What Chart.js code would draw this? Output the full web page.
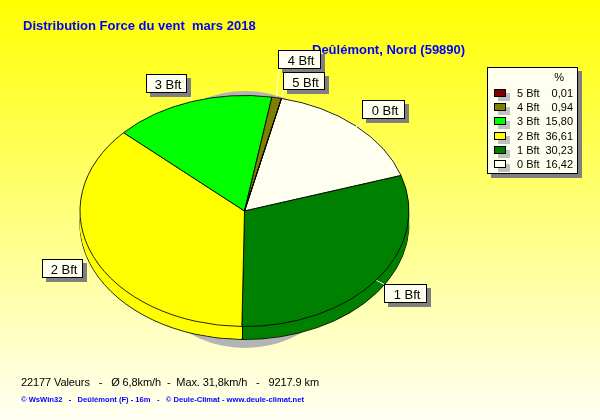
<!DOCTYPE html>
<html>
<head>
<meta charset="utf-8">
<style>
  html, body { margin: 0; padding: 0; background: #fff; }
  #wrap { width: 600px; height: 420px; }
</style>
<script src="https://cdn.jsdelivr.net/npm/chart.js@4"></script>
</head>
<body>
<div id="wrap"><canvas id="windChart" width="600" height="420"></canvas></div>
<script>
// Wind force distribution, March 2018
const categories = ['0 Bft', '1 Bft', '2 Bft', '3 Bft', '4 Bft', '5 Bft'];
const percentages = [16.42, 30.23, 36.61, 15.80, 0.94, 0.01];
const percentLabels = ['16,42', '30,23', '36,61', '15,80', '0,94', '0,01'];
const sliceColors = ['#fffff0', '#008000', '#ffff00', '#00ff00', '#808000', '#800000'];

const titleText = 'Distribution Force du vent  mars 2018';
const stationText = 'Deûlémont, Nord (59890)';
const statsText = '22177 Valeurs   -   Ø 6,8km/h  -  Max. 31,8km/h   -   9217.9 km';
const creditText = '© WsWin32   -   Deûlémont (F) - 16m   -   © Deule-Climat - www.deule-climat.net';

// Tilted pie: the circle from Chart.js is squashed to an ellipse
const PIE_X = 244.5, PIE_Y = 211, RADIUS = 164.5, SQUASH = 115.5 / 164.5, DEPTH = 13;

function withPieTransform(chart, ctx, dx, dy, fn) {
    const arc = chart.getDatasetMeta(0).data[0];
    ctx.save();
    ctx.translate(PIE_X + dx, PIE_Y + dy);
    ctx.scale(1, SQUASH);
    ctx.translate(-arc.x, -arc.y);
    fn();
    ctx.restore();
}

function drawBox(ctx, x, y, w, h, shadow) {
    ctx.fillStyle = '#808080';
    ctx.fillRect(x + shadow, y + shadow, w, h);
    ctx.fillStyle = '#fffff0';
    ctx.fillRect(x, y, w, h);
    ctx.strokeStyle = '#000';
    ctx.lineWidth = 1;
    ctx.strokeRect(x + 0.5, y + 0.5, w - 1, h - 1);
}

const backgroundPlugin = {
    id: 'background',
    beforeDraw(chart) {
        const { ctx, width, height } = chart;
        const grad = ctx.createLinearGradient(0, 0, 0, height);
        grad.addColorStop(0, '#ffff00');
        grad.addColorStop(1, '#fffff4');
        ctx.fillStyle = grad;
        ctx.fillRect(0, 0, width, height);
    }
};

const tiltedPiePlugin = {
    id: 'tiltedPie',
    beforeDatasetsDraw(chart) {
        const { ctx } = chart;
        const arcs = chart.getDatasetMeta(0).data;
        // grey shadow, only shows above and below the pie
        ctx.fillStyle = '#b4b4b4';
        ctx.beginPath();
        ctx.ellipse(245, 219.5, 120, 128.5, 0, 0, Math.PI * 2);
        ctx.fill();
        // side wall
        withPieTransform(chart, ctx, 0, DEPTH, () => arcs.forEach(a => a.draw(ctx)));
        for (let dy = DEPTH - 1; dy > 0; dy--) {
            withPieTransform(chart, ctx, 0, dy, () => {
                arcs.forEach((a, i) => {
                    ctx.fillStyle = sliceColors[i];
                    ctx.beginPath();
                    ctx.moveTo(a.x, a.y);
                    ctx.arc(a.x, a.y, RADIUS, a.startAngle, a.endAngle);
                    ctx.closePath();
                    ctx.fill();
                });
            });
        }
        // wall edges between slices, front side only
        ctx.strokeStyle = '#000';
        ctx.lineWidth = 1;
        arcs.forEach(a => {
            if (Math.sin(a.startAngle) <= 0) return;
            const ex = Math.round(PIE_X + RADIUS * Math.cos(a.startAngle)) + 0.5;
            const ey = PIE_Y + RADIUS * SQUASH * Math.sin(a.startAngle);
            ctx.beginPath();
            ctx.moveTo(ex, ey);
            ctx.lineTo(ex, ey + DEPTH);
            ctx.stroke();
        });
        ctx.save();
        ctx.translate(PIE_X, PIE_Y);
        ctx.scale(1, SQUASH);
        ctx.translate(-arcs[0].x, -arcs[0].y);
    },
    afterDatasetsDraw(chart) {
        chart.ctx.restore();
    }
};

// label boxes around the pie: [x, y, w, h]
const labelBoxes = [
    [362, 100, 43, 19],
    [384, 284, 43, 19],
    [42, 259, 41, 19],
    [146, 74, 41, 19],
    [278, 50, 43, 19],
    [283, 72, 42, 18]
];
// white leader lines from the boxes to the pie rim
const leaders = [
    [363, 120, 355, 127],
    [384, 284, 376, 280],
    [83, 268, 83, 268],
    [190, 94, 191, 100],
    [278, 69, 276, 96],
    [283, 90, 281, 96]
];

const textPlugin = {
    id: 'chartText',
    afterDraw(chart) {
        const { ctx } = chart;
        ctx.save();
        ctx.textBaseline = 'alphabetic';

        // titles, the label boxes sit on top of them
        ctx.textAlign = 'left';
        ctx.fillStyle = '#0000ff';
        ctx.font = 'bold 13px "Liberation Sans"';
        ctx.fillText(titleText, 23, 30);
        ctx.fillText(stationText, 312, 54);

        // leaders and label boxes
        ctx.strokeStyle = '#fffff0';
        ctx.lineWidth = 1;
        leaders.forEach(([x1, y1, x2, y2]) => {
            ctx.beginPath();
            ctx.moveTo(x1 + 0.5, y1 + 0.5);
            ctx.lineTo(x2 + 0.5, y2 + 0.5);
            ctx.stroke();
        });
        labelBoxes.forEach(([x, y, w, h], i) => {
            drawBox(ctx, x, y, w, h, 4);
            ctx.fillStyle = '#000';
            ctx.font = '13px "Liberation Sans"';
            ctx.textAlign = 'center';
            ctx.fillText(categories[i], x + w / 2 + 1.5, y + 15);
        });

        // legend
        drawBox(ctx, 487, 67, 91, 107, 4);
        ctx.fillStyle = '#000';
        ctx.font = '11px "Liberation Sans"';
        ctx.textAlign = 'right';
        ctx.fillText('%', 564, 81);
        for (let i = categories.length - 1; i >= 0; i--) {
            const y = Math.round(89 + (categories.length - 1 - i) * 14.2);
            ctx.fillStyle = '#c0c0c0';
            ctx.fillRect(498, y + 4, 12, 8);
            ctx.fillStyle = sliceColors[i];
            ctx.fillRect(494, y, 12, 8);
            ctx.strokeStyle = '#000';
            ctx.strokeRect(494.5, y + 0.5, 11, 7);
            ctx.fillStyle = '#000';
            ctx.textAlign = 'left';
            ctx.fillText(categories[i], 517, y + 8);
            ctx.textAlign = 'right';
            ctx.fillText(percentLabels[i], 573, y + 8);
        }

        // footer
        ctx.textAlign = 'left';
        ctx.fillStyle = '#000';
        ctx.font = '11px "Liberation Sans"';
        ctx.letterSpacing = '-0.1px';
        ctx.fillText(statsText, 21, 386);
        ctx.letterSpacing = '0px';
        ctx.fillStyle = '#0000ff';
        ctx.font = 'bold 7.6px "Liberation Sans"';
        ctx.fillText(creditText, 21, 402);
        ctx.restore();
    }
};

new Chart(document.getElementById('windChart'), {
    type: 'pie',
    data: {
        labels: categories,
        datasets: [{
            data: percentages,
            backgroundColor: sliceColors,
            borderColor: '#000',
            borderWidth: 1,
            radius: RADIUS,
            rotation: 13
        }]
    },
    options: {
        responsive: false,
        animation: false,
        events: [],
        layout: { padding: 0 },
        plugins: {
            legend: { display: false },
            title: { display: false },
            tooltip: { enabled: false }
        }
    },
    plugins: [backgroundPlugin, tiltedPiePlugin, textPlugin]
});
</script>
</body>
</html>
